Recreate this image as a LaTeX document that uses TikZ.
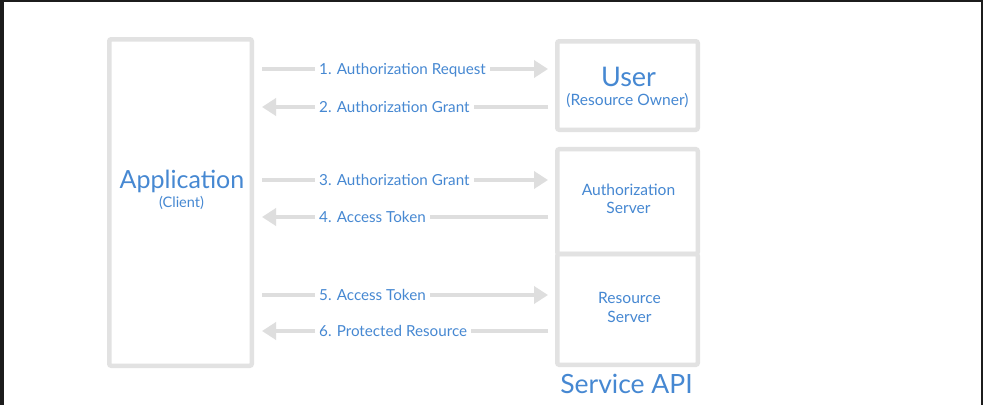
\documentclass[tikz,border=0pt]{standalone}
\usepackage{fontspec}
\setmainfont{Lato}
\usetikzlibrary{arrows.meta, positioning}
\definecolor{boxgrey}{RGB}{226,226,226}
\definecolor{flowgrey}{RGB}{222,222,222}
\definecolor{txtblue}{RGB}{70,136,210}
\definecolor{framedark}{RGB}{28,28,28}

\begin{document}
\begin{tikzpicture}[x=1pt, y=-1pt,
	box/.style={draw=boxgrey, line width=4.5pt, rounded corners=2pt, inner sep=0pt, minimum width=140.5pt},
	flow/.style={draw=flowgrey, line width=4pt},
	head/.style={-{Triangle[length=14pt, width=17pt]}},
	lbl/.style={text=txtblue, font=\fontsize{15.2}{18}\selectfont, anchor=west, inner xsep=4pt, inner ysep=0pt, text height=10.8pt, text depth=0pt},
	big/.style={text=txtblue, font=\fontsize{26.5}{30}\selectfont, inner sep=0pt, anchor=base},
	small/.style={text=txtblue, font=\fontsize{15.6}{18}\selectfont, inner sep=0pt, anchor=base}]
	\useasboundingbox (0,0) rectangle (983,405);
	\fill[framedark] (0,0) rectangle (983,405);
	\fill[white] (3.5,2) rectangle (980.5,405);

	\node[box, minimum width=142.5pt, minimum height=326.5pt] (app) at (180.5,202.5) {};
	\node[box, minimum height=88.5pt] (user) at (627.5,85.5) {};
	\node[box, minimum height=104.75pt] (auth) at (627.5,201.6) {};
	\node[box, minimum height=110.75pt] (res) at (627.5,309.4) {};

	\node[big, font=\fontsize{25}{28}\selectfont] (apptxt) at (182,188) {Application};
	\node[small, font=\fontsize{14.5}{16}\selectfont] (clienttxt) at (181.5,207) {(Client)};
	\node[big, font=\fontsize{27}{30}\selectfont] (usertxt) at (628.5,86) {User};
	\node[small] (ownertxt) at (627.5,105) {(Resource Owner)};
	\node[small] (authtxt) at (628.5,195) {Authorization};
	\node[small] (authsrv) at (628.5,213.5) {Server};
	\node[small] (restxt) at (629.5,303.3) {Resource};
	\node[small] (ressrv) at (629.5,322.7) {Server};
	\node[big] (apitxt) at (626.5,393.3) {Service API};

	\coordinate (a1) at (262,69);
	\coordinate (b1) at (548,69);
	\coordinate (a2) at (262,107);
	\coordinate (b2) at (548,107);
	\coordinate (a3) at (262,180);
	\coordinate (b3) at (548,180);
	\coordinate (a4) at (262,217);
	\coordinate (b4) at (548,217);
	\coordinate (a5) at (262,295);
	\coordinate (b5) at (548,295);
	\coordinate (a6) at (262,331);
	\coordinate (b6) at (548,331);

	\node[lbl] (l1) at (315,69) {1. Authorization Request};
	\node[lbl] (l2) at (315,107) {2. Authorization Grant};
	\node[lbl] (l3) at (315,180) {3. Authorization Grant};
	\node[lbl] (l4) at (315,217) {4. Access Token};
	\node[lbl] (l5) at (315,295) {5. Access Token};
	\node[lbl] (l6) at (315,331) {6. Protected Resource};

	\draw[flow] (a1) -- (l1);
	\draw[flow, head] (l1) -- (b1);
	\draw[flow, head] (l2) -- (a2);
	\draw[flow] (b2) -- (l2);
	\draw[flow] (a3) -- (l3);
	\draw[flow, head] (l3) -- (b3);
	\draw[flow, head] (l4) -- (a4);
	\draw[flow] (b4) -- (l4);
	\draw[flow] (a5) -- (l5);
	\draw[flow, head] (l5) -- (b5);
	\draw[flow, head] (l6) -- (a6);
	\draw[flow] (b6) -- (l6);
\end{tikzpicture}
\end{document}
